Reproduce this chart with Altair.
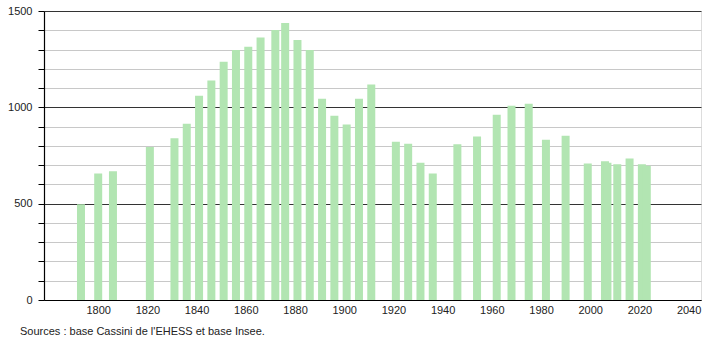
import altair as alt
import pandas as pd

years = [1793, 1800, 1806, 1821, 1831, 1836, 1841, 1846, 1851, 1856,
         1861, 1866, 1872, 1876, 1881, 1886, 1891, 1896, 1901, 1906,
         1911, 1921, 1926, 1931, 1936, 1946, 1954, 1962, 1968, 1975,
         1982, 1990, 1999, 2006, 2007, 2011, 2016, 2021, 2023]
population = [497, 657, 668, 794, 839, 915, 1060, 1139, 1237, 1298,
              1315, 1362, 1402, 1438, 1350, 1298, 1044, 956, 911, 1044,
              1118, 822, 811, 713, 657, 808, 849, 961, 1008, 1018,
              832, 853, 708, 720, 713, 705, 735, 704, 697]

y_ticks = list(range(0, 1501, 100))
x_ticks = list(range(1800, 2041, 20))
source_text = "Sources : base Cassini de l'EHESS et base Insee."

df = pd.DataFrame({"year": years, "pop": population})
FONT = "Liberation Sans"

chart = alt.Chart(df).mark_bar(color="#b2e5b2", size=8).encode(
    x=alt.X("year:Q",
            scale=alt.Scale(domain=[1780, 2043], nice=False, zero=False),
            axis=alt.Axis(values=x_ticks, format="d", title=None, grid=False,
                          ticks=False, labelPadding=4, labelFontSize=11,
                          labelColor="#222", labelFont=FONT,
                          domainColor="#000", domainWidth=1.2)),
    y=alt.Y("pop:Q",
            scale=alt.Scale(domain=[0, 1500], nice=False),
            axis=alt.Axis(values=y_ticks, title=None,
                          labelExpr="datum.value % 500 === 0 ? datum.label : ''",
                          format="d",
                          tickSize=6, tickColor="#000", labelPadding=6,
                          labelFontSize=11, labelColor="#222", labelFont=FONT,
                          domainColor="#000", domainWidth=1.2,
                          grid=True,
                          gridColor={"condition": {"test": "datum.value % 500 === 0", "value": "#333333"},
                                     "value": "#c8c8c8"},
                          gridWidth=1)),
).properties(
    width=657, height=289,
    autosize=alt.AutoSizeParams(type="none"),
    padding={"left": 44, "top": 11, "right": 9, "bottom": 40},
    title=alt.TitleParams(source_text, orient="bottom", anchor="start",
                          frame="group", dx=-24, offset=11, fontSize=11,
                          font=FONT, fontWeight="normal", color="#222"),
).configure_view(stroke=None).configure(background="white")

chart.save("out.html", embed_options={"renderer": "svg", "actions": False})
